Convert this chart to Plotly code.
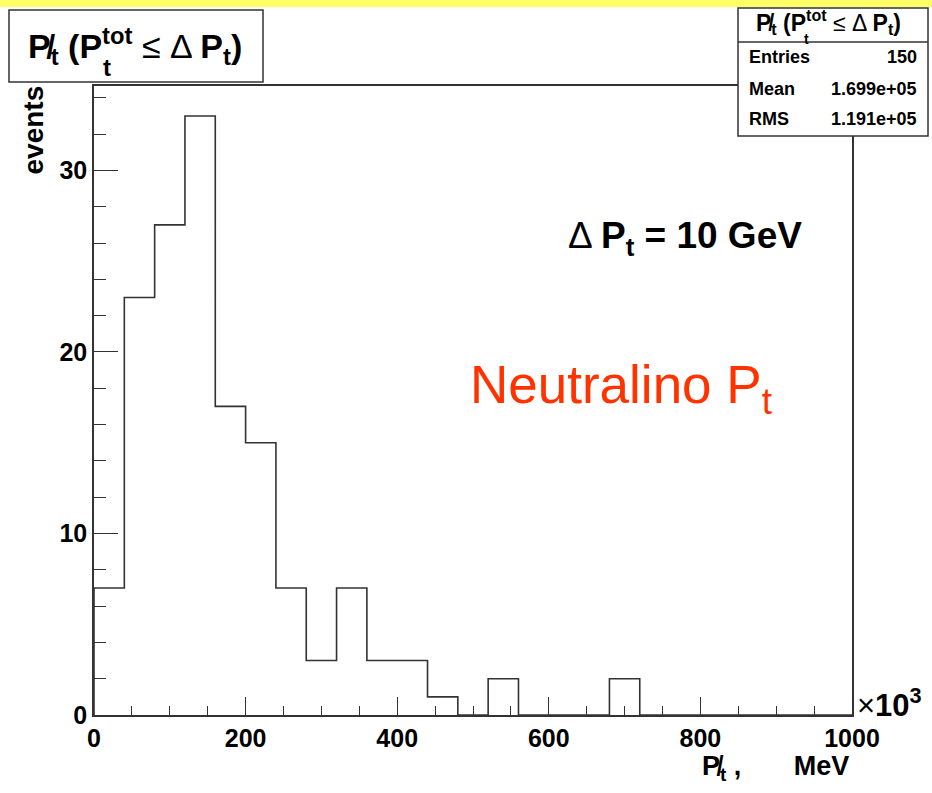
import plotly.graph_objects as go

# ---- data (x in units of 10^3 MeV) ----
bin_edges = [0, 40, 80, 120, 160, 200, 240, 280, 320, 360, 400, 440, 480, 520,
             560, 600, 640, 680, 720, 760, 800, 840, 880, 920, 960, 1000]
counts = [7, 23, 27, 33, 17, 15, 7, 3, 7, 3, 3, 1, 0, 2,
          0, 0, 0, 2, 0, 0, 0, 0, 0, 0, 0]
x_tick_vals = [0, 200, 400, 600, 800, 1000]
y_tick_vals = [0, 10, 20, 30]
stats_labels = ["Entries", "Mean", "RMS"]
stats_values = ["150", "1.699e+05", "1.191e+05"]

W, H = 932, 793
L, R, T, B = 94, 852, 86, 715
FONT = "Liberation Sans, Arial, sans-serif"
LINE = "#333333"

def px(x):
    return (x - L) / (R - L)

def py(y):
    return (B - y) / (B - T)

step_x = [bin_edges[0]] + bin_edges
step_y = [0] + counts + [counts[-1]]

fig = go.Figure()
fig.add_trace(go.Scatter(x=step_x, y=step_y, mode="lines", line_shape="hv",
                         line=dict(color=LINE, width=1.6), hoverinfo="skip",
                         showlegend=False))

fig.update_xaxes(range=[0, 1000], showline=True, linecolor=LINE, linewidth=1.6,
                 mirror=True, ticks="inside", ticklen=18, tickwidth=1.3,
                 tickcolor=LINE, tickvals=x_tick_vals, showgrid=False,
                 zeroline=False,
                 tickfont=dict(family=FONT, size=25, color="black", weight="bold"),
                 minor=dict(ticks="inside", ticklen=9, dtick=50, tickcolor=LINE,
                            tickwidth=1.3, showgrid=False))
fig.update_yaxes(range=[0, 34.65], showline=True, linecolor=LINE, linewidth=1.6,
                 mirror=True, ticks="inside", ticklen=24, tickwidth=1.3,
                 tickcolor=LINE, tickvals=y_tick_vals, showgrid=False,
                 zeroline=False,
                 tickfont=dict(family=FONT, size=25, color="black", weight="bold"),
                 minor=dict(ticks="inside", ticklen=12, dtick=2, tickcolor=LINE,
                            tickwidth=1.3, showgrid=False))

shapes = [
    # yellow top strip
    dict(type="rect", xref="paper", yref="paper", x0=px(0), x1=px(W), y0=py(0), y1=py(7),
         fillcolor="#FFFF66", line=dict(width=0), layer="above"),
    # title box
    dict(type="rect", xref="paper", yref="paper", x0=px(9), x1=px(263), y0=py(10), y1=py(82),
         fillcolor="white", line=dict(color=LINE, width=1.5), layer="above"),
    # stats box
    dict(type="rect", xref="paper", yref="paper", x0=px(738), x1=px(928), y0=py(8), y1=py(136),
         fillcolor="white", line=dict(color=LINE, width=1.5), layer="above"),
    dict(type="line", xref="paper", yref="paper", x0=px(738), x1=px(928), y0=py(42), y1=py(42),
         line=dict(color=LINE, width=1.5), layer="above"),
]

ann = []
def A(text, x, y, size, xanchor="left", yanchor="middle", color="black", angle=0):
    ann.append(dict(text=text, x=px(x), y=py(y), xref="paper", yref="paper",
                    xanchor=xanchor, yanchor=yanchor, showarrow=False, textangle=angle,
                    font=dict(family=FONT, size=size, color=color)))

PSLASH = "P\u0338"
# main title (subscript t of P^tot drawn separately, stacked under "tot")
A(f"<b>{PSLASH}<sub>t</sub> (P<sup>tot</sup></b> ≤ Δ <b>P<sub>t</sub>)</b>",
  26, 46, 34)
A("<b>t</b>", 107, 68, 24, xanchor="center")
# stats box
A(f"<b>{PSLASH}<sub>t</sub> (P<sup>tot</sup></b> ≤ Δ <b>P<sub>t</sub>)</b>",
  754, 22, 23)
A("<b>t</b>", 806, 39, 14, xanchor="center")
for lab, val, yy in zip(stats_labels, stats_values, [57, 89, 119]):
    A(f"<b>{lab}</b>", 747, yy, 18)
    A(f"<b>{val}</b>", 919, yy, 18, xanchor="right")

A("<b>events</b>", 33, 84, 28, xanchor="center", yanchor="top", angle=-90)
A(f"<b>{PSLASH}<sub>t</sub> ,       MeV</b>", 851, 768, 27, xanchor="right")
A("×<b>10<sup>3</sup></b>", 855, 703, 31)
A("Δ <b>P<sub>t</sub> = 10 GeV</b>", 566, 238, 37)
A("Neutralino P<sub>t</sub>", 468, 388, 53, color="#FF3300")

fig.update_layout(width=W, height=H, margin=dict(l=L, r=W - R, t=T, b=H - B),
                  plot_bgcolor="white", paper_bgcolor="white",
                  shapes=shapes, annotations=ann, showlegend=False)

fig.write_html("out.html", config={"displayModeBar": False},
               post_script="document.body.style.margin='0';")
